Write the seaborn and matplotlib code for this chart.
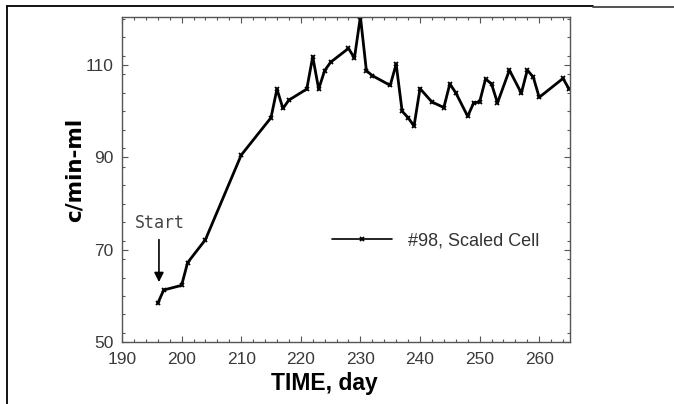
import matplotlib
matplotlib.use("Agg")
import matplotlib.pyplot as plt
from matplotlib.lines import Line2D
from matplotlib.ticker import MultipleLocator
import seaborn as sns
import pandas as pd

# Counting rate of cell #98 over time
days = [196, 197, 200, 201, 204, 210, 215, 216, 217, 218, 221, 222, 223, 224,
        225, 228, 229, 230, 231, 232, 235, 236, 237, 238, 239, 240, 242, 244,
        245, 246, 248, 249, 250, 251, 252, 253, 255, 257, 258, 259, 260, 264, 265]
rate = [58.4, 61.3, 62.3, 67.2, 72.2, 90.5, 98.6, 104.8, 100.6, 102.4, 104.8,
        111.8, 104.8, 108.8, 110.6, 113.6, 111.5, 120.5, 108.8, 107.7, 105.6,
        110.2, 100.0, 98.6, 96.8, 104.9, 102.0, 100.8, 105.9, 104.0, 98.9,
        101.8, 102.0, 107.0, 105.9, 101.8, 108.9, 103.9, 108.9, 107.4, 103.0,
        107.1, 104.8]
series_label = "#98, Scaled Cell"
x_ticks = [190, 200, 210, 220, 230, 240, 250, 260]
y_ticks = [50, 70, 90, 110]

sns.set_theme(style="ticks")
plt.rcParams["font.family"] = ["Liberation Sans", "DejaVu Sans"]

df = pd.DataFrame({"day": days, "rate": rate})

fig = plt.figure(figsize=(6.74, 4.04), dpi=100)
ax = fig.add_axes([0.181, 0.153, 0.665, 0.805])

sns.lineplot(data=df, x="day", y="rate", ax=ax, color="black", linewidth=2.0,
             marker="x", markersize=3.5, markeredgewidth=1.3,
             markeredgecolor="black", label=series_label, sort=False)

ax.set_xlim(190, 265.2)
ax.set_ylim(50, 120.4)
ax.set_xticks(x_ticks)
ax.set_yticks(y_ticks)
ax.xaxis.set_minor_locator(MultipleLocator(2))
ax.yaxis.set_minor_locator(MultipleLocator(4))
ax.tick_params(which="both", direction="in", top=True, right=True,
               colors="#555555", labelcolor="#3a3a3a", labelsize=12.5, width=0.8)
ax.tick_params(which="major", length=4, pad=6)
ax.tick_params(which="minor", length=2.5)
ax.tick_params(axis="x", which="major", pad=7)
for sp in ax.spines.values():
    sp.set_color("#555555")
    sp.set_linewidth(1.0)
    sp.set_visible(True)

ax.set_xlabel("TIME, day", fontsize=16.5, fontweight="bold", color="black")
ax.set_ylabel("c/min-ml", fontsize=15.5, fontweight="bold", color="black",
              family="DejaVu Sans")
ax.xaxis.set_label_coords(0.451, -0.093)
ax.yaxis.set_label_coords(-0.083, 0.53)

# Start marker
ax.annotate("", xy=(196.2, 63.0), xytext=(196.2, 72.2),
            arrowprops=dict(arrowstyle="-|>", color="black", lw=1.2,
                            mutation_scale=14, shrinkA=0, shrinkB=0))
ax.text(196.4, 75.8, "Start", ha="center", va="center",
        family="DejaVu Sans Mono", fontsize=12, color="#444444")

leg = ax.legend(loc="center left", bbox_to_anchor=(0.469, 0.311), frameon=False,
                borderpad=0, borderaxespad=0, handlelength=3.3,
                handletextpad=0.9, fontsize=13, numpoints=1)
for t in leg.get_texts():
    t.set_color("#333333")
for ln in leg.get_lines():
    ln.set_linewidth(1.2)

# Page frame lines
fig.add_artist(Line2D([7 / 674, 7 / 674], [0, 1 - 6 / 404],
                      transform=fig.transFigure, color="black", lw=1.3))
fig.add_artist(Line2D([7 / 674, 593 / 674], [1 - 6 / 404, 1 - 6 / 404],
                      transform=fig.transFigure, color="black", lw=1.3))
fig.add_artist(Line2D([593 / 674, 1], [1 - 6.5 / 404, 1 - 6.5 / 404],
                      transform=fig.transFigure, color="#444444", lw=1.3))

fig.savefig("out.png", dpi=100)
